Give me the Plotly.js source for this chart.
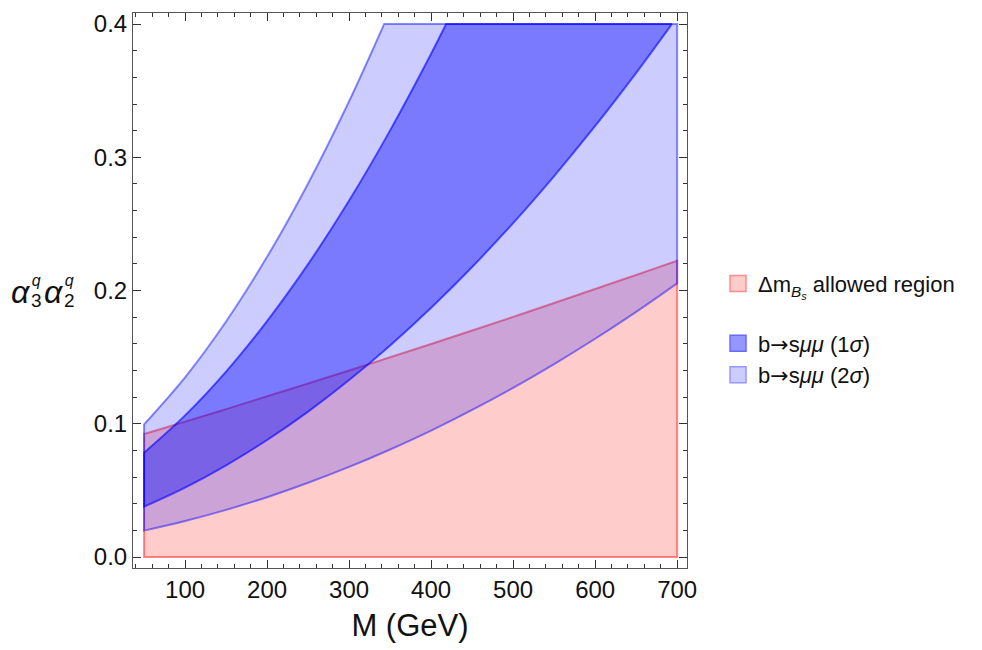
<!DOCTYPE html>
<html>
<head>
<meta charset="utf-8">
<script src="https://cdn.plot.ly/plotly-3.0.1.min.js"></script>
<style>html,body{margin:0;padding:0;background:#fff;}#chart{width:982px;height:650px;}</style>
</head>
<body>
<div id="chart"></div>
<script>
// ---- data ----
const capY = 0.4;                      // upper limit of the plotted regions
const Mmin = 50, Mmax = 700;

// Δm_Bs allowed region: 0 <= y <= dmUpper
const dmM     = [50, 100, 150, 200, 250, 300, 350, 400, 450, 500, 550, 600, 650, 700];
const dmUpper = [0.0923, 0.1016, 0.1110, 0.1206, 0.1302, 0.1400, 0.1499, 0.1599, 0.1700, 0.1802, 0.1906, 0.2011, 0.2117, 0.2224];

// b->s mu mu 2 sigma band
const lo2M = [50, 100, 150, 200, 250, 300, 350, 400, 450, 500, 550, 600, 650, 700];
const lo2Y = [0.0198, 0.0270, 0.0354, 0.0449, 0.0557, 0.0676, 0.0807, 0.0949, 0.1104, 0.1270, 0.1448, 0.1638, 0.1840, 0.2054];
const up2M = [50, 100, 150, 200, 250, 300, 342.7];
const up2Y = [0.0996, 0.1349, 0.1768, 0.2253, 0.2804, 0.3421, 0.4];

// b->s mu mu 1 sigma band
const lo1M = [50, 100, 150, 200, 250, 300, 350, 400, 450, 500, 550, 600, 650, 693.5];
const lo1Y = [0.0378, 0.0521, 0.0688, 0.0878, 0.1091, 0.1328, 0.1588, 0.1871, 0.2177, 0.2506, 0.2859, 0.3235, 0.3634, 0.4];
const up1M = [50, 100, 150, 200, 250, 300, 350, 400, 418.3];
const up1Y = [0.0783, 0.1063, 0.1392, 0.1771, 0.2198, 0.2675, 0.3202, 0.3777, 0.4];

const arrow = '<span style="font-family:DejaVu Sans">→</span>';
const legendNames = [
  'Δm<sub><i>B<sub>s</sub></i></sub> allowed region',
  'b' + arrow + 's<i>μμ</i> (1<i>σ</i>)',
  'b' + arrow + 's<i>μμ</i> (2<i>σ</i>)'
];

const xTicks = [100, 200, 300, 400, 500, 600, 700];
const yTicks = [0.0, 0.1, 0.2, 0.3, 0.4];

// y-axis label α_3^q α_2^q : base letters and stacked sup/sub indices
const yLabelBase = ['<i>α</i>', '<i>α</i>'];
const yLabelSub  = ['3', '2'];
const yLabelSup  = ['q', 'q'];

// ---- build polygons (corner points doubled so the spline keeps sharp corners) ----
function rev(a){ return a.slice().reverse(); }
function poly(segs){
  const X = [], Y = [];
  segs.forEach(s => {
    const xs = s[0], ys = s[1];
    xs.forEach((v, i) => {
      X.push(v); Y.push(ys[i]);
      if (i === 0 || i === xs.length - 1) { X.push(v); Y.push(ys[i]); }
    });
  });
  X.push(X[0]); Y.push(Y[0]);
  return [X, Y];
}

const pink = poly([
  [[Mmin, Mmax], [0, 0]],
  [rev(dmM), rev(dmUpper)]
]);
const s2 = poly([
  [lo2M, lo2Y],
  [[Mmax, up2M[up2M.length-1]], [capY, capY]],
  [rev(up2M), rev(up2Y)]
]);
const s1 = poly([
  [lo1M, lo1Y],
  [[up1M[up1M.length-1]], [capY]],
  [rev(up1M), rev(up1Y)]
]);

const traces = [
  {x: pink[0], y: pink[1], type:'scatter', mode:'lines', fill:'toself',
   fillcolor:'rgba(255,0,0,0.2)', line:{color:'rgba(255,0,0,0.45)', width:2, shape:'spline', smoothing:1},
   hoverinfo:'skip', showlegend:false},
  {x: s2[0], y: s2[1], type:'scatter', mode:'lines', fill:'toself',
   fillcolor:'rgba(0,0,255,0.2)', line:{color:'rgba(0,0,255,0.45)', width:2, shape:'spline', smoothing:1},
   hoverinfo:'skip', showlegend:false},
  {x: s1[0], y: s1[1], type:'scatter', mode:'lines', fill:'toself',
   fillcolor:'rgba(0,0,255,0.4)', line:{color:'rgba(0,0,255,0.6)', width:2, shape:'spline', smoothing:1},
   hoverinfo:'skip', showlegend:false},
  // legend entries
  {x:[null], y:[null], type:'scatter', mode:'markers', name: legendNames[0], legendgroup:'a',
   marker:{symbol:'square', size:16, color:'rgb(255,204,204)', line:{color:'rgb(255,140,140)', width:1.5}}},
  {x:[null], y:[null], type:'scatter', mode:'markers', name: legendNames[1], legendgroup:'b',
   marker:{symbol:'square', size:16, color:'rgb(150,150,255)', line:{color:'rgb(105,105,255)', width:1.5}}},
  {x:[null], y:[null], type:'scatter', mode:'markers', name: legendNames[2], legendgroup:'b',
   marker:{symbol:'square', size:16, color:'rgb(204,204,255)', line:{color:'rgb(150,150,255)', width:1.5}}}
];

const axisCommon = {
  showgrid:false, zeroline:false, showline:true, linecolor:'#555', linewidth:1,
  mirror:'allticks', ticks:'inside', ticklen:8, tickwidth:1, tickcolor:'#333',
  tickfont:{family:'Liberation Sans, Arial, sans-serif', size:24, color:'#111'}
};

// plot area in pixels (for placing the label pieces)
const plotL = 133, plotW = 554, plotB = 568, plotH = 555;
function px2x(px){ return (px - plotL) / plotW; }
function py2y(py){ return (plotB - py) / plotH; }
const labelFont = 'Liberation Sans, Arial, sans-serif';
function ann(text, px, py, size){
  return {xref:'paper', yref:'paper', x:px2x(px), y:py2y(py), xanchor:'center', yanchor:'middle',
          showarrow:false, borderpad:0, text:text, font:{family:labelFont, size:size, color:'#111'}};
}
function stacked(sup, sub){
  return '<span style="font-size:16px"><i>' + sup + '</i></span><br><span style="font-size:19px">' + sub + '</span>';
}
const annotations = [
  ann(yLabelBase[0], 20.5, 292, 32),
  ann(stacked(yLabelSup[0], yLabelSub[0]), 36.5, 291, 16),
  ann(yLabelBase[1], 53, 292, 32),
  ann(stacked(yLabelSup[1], yLabelSub[1]), 69.5, 291, 16)
];

const layout = {
  width:982, height:650,
  margin:{l:133, r:295, t:13, b:82},
  paper_bgcolor:'#fff', plot_bgcolor:'#fff',
  font:{family:'Liberation Sans, Arial, sans-serif', color:'#111'},
  xaxis: Object.assign({}, axisCommon, {
    range:[36.5, 712], tickmode:'array', tickvals:xTicks, ticktext:xTicks.map(String),
    minor:{dtick:20, tick0:0, ticks:'inside', ticklen:4, tickcolor:'#333', showgrid:false},
    title:{text:'M (GeV)', font:{family:'Liberation Sans, Arial, sans-serif', size:31, color:'#111'}, standoff:12}
  }),
  yaxis: Object.assign({}, axisCommon, {
    range:[-0.00825, 0.4083], tickmode:'array', tickvals:yTicks, ticktext:yTicks.map(v=>v.toFixed(1)),
    minor:{dtick:0.02, tick0:0, ticks:'inside', ticklen:4, tickcolor:'#333', showgrid:false},
    title:{text:''}
  }),
  showlegend:true,
  legend:{x:1.056, xanchor:'left', y:0.55, yanchor:'top', traceorder:'grouped',
    tracegroupgap:28, bgcolor:'rgba(0,0,0,0)',
    font:{family:'Liberation Sans, Arial, sans-serif', size:22, color:'#111'}},
  annotations: annotations
};

Plotly.newPlot('chart', traces, layout, {staticPlot:true, displayModeBar:false});
</script>
</body>
</html>
